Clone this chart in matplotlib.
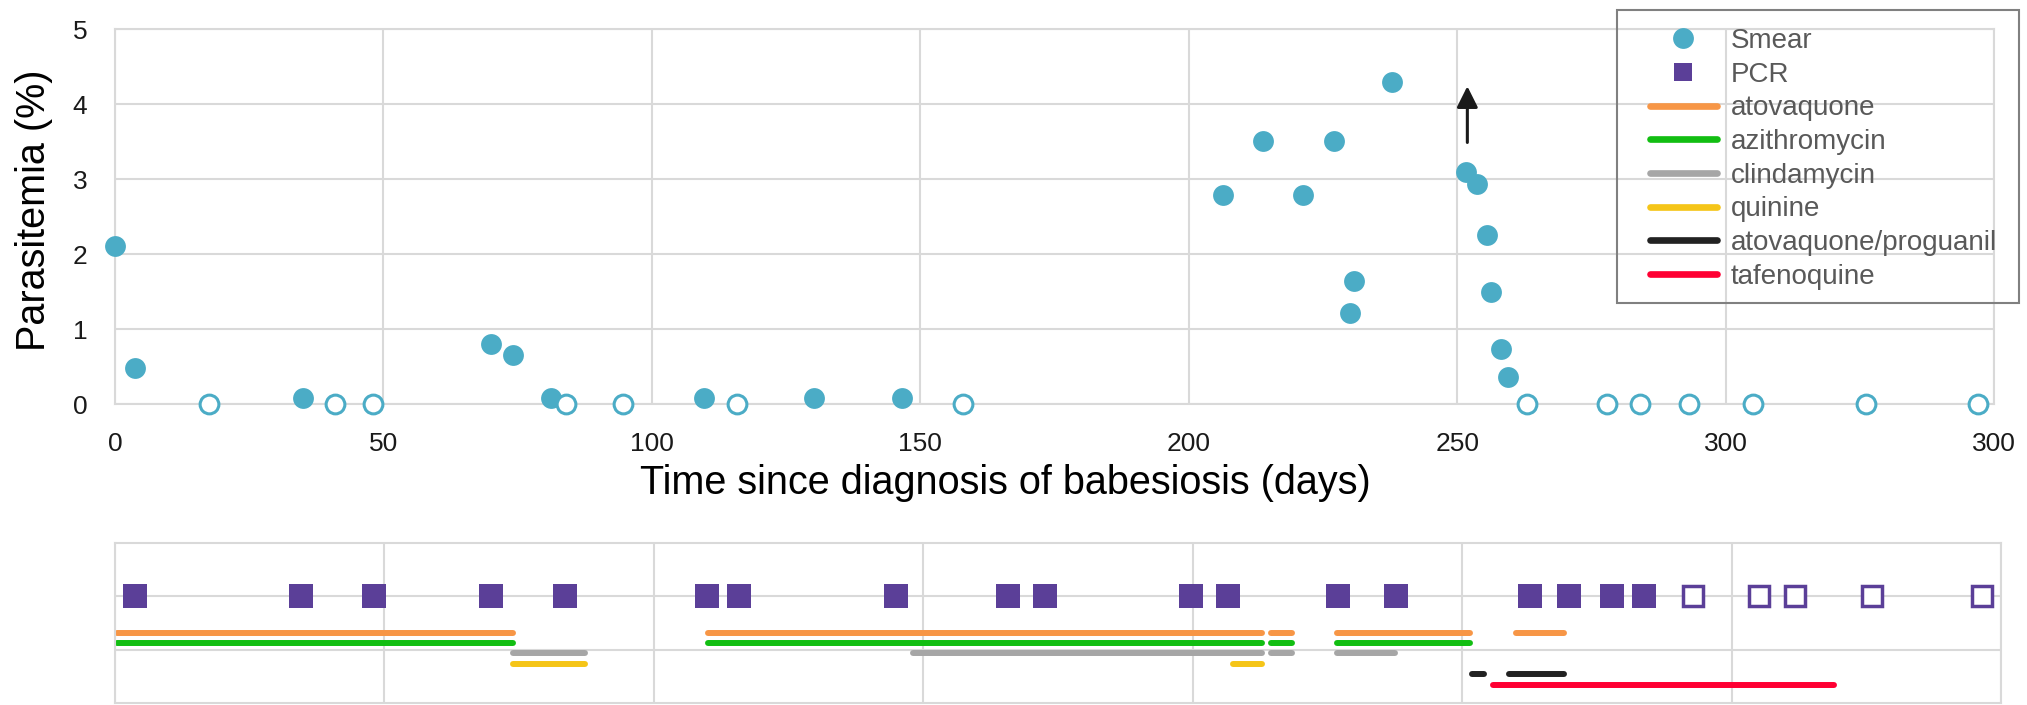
import matplotlib
matplotlib.use('Agg')
import matplotlib.pyplot as plt
from matplotlib.lines import Line2D
from matplotlib.patches import Rectangle

plt.rcParams['font.family'] = ['Liberation Sans', 'DejaVu Sans']

# smear results: positive (filled) and negative (open, plotted at 0)
smear_pos_day = [0, 3.7, 35, 70, 74.1, 81.2, 109.8, 130.2, 146.6, 206.3, 213.8,
                 221.3, 227, 230.1, 230.8, 237.9, 251.7, 253.7, 255.6, 256.3,
                 258.2, 259.5]
smear_pos_val = [2.11, 0.48, 0.08, 0.80, 0.66, 0.08, 0.08, 0.08, 0.08, 2.79, 3.51,
                 2.79, 3.51, 1.22, 1.64, 4.30, 3.10, 2.93, 2.26, 1.50,
                 0.73, 0.36]
smear_neg_day = [17.6, 40.9, 48, 84.1, 94.6, 115.9, 158, 263, 277.9, 284.1,
                 293.2, 305.1, 326.1, 347]

# PCR results
pcr_pos_day = [3.7, 34.5, 48, 69.8, 83.5, 109.8, 115.8, 144.9, 165.7, 172.6,
               199.6, 206.6, 226.9, 237.7, 262.5, 269.8, 277.8, 283.8]
pcr_neg_day = [292.8, 305, 311.8, 326, 346.4]

# treatment periods (start, end) in days
drugs = ['atovaquone', 'azithromycin', 'clindamycin', 'quinine',
         'atovaquone/proguanil', 'tafenoquine']
drug_colors = ['#F79646', '#12BE12', '#A6A6A6', '#F5C518', '#222222', '#FF0033']
drug_rows = [1.32, 1.12, 0.93, 0.74, 0.55, 0.34]
drug_periods = [
    [(0.3, 73.8), (110, 212.8), (214.6, 218.5), (226.8, 251.5), (260, 268.9)],
    [(0.3, 73.8), (110, 212.8), (214.6, 218.5), (226.8, 251.5)],
    [(73.8, 87.2), (148, 212.8), (214.6, 218.5), (226.8, 237.5)],
    [(73.8, 87.2), (207.5, 212.8)],
    [(251.8, 254.1), (258.7, 268.9)],
    [(255.7, 319.1)],
]

x_ticks = [0, 50, 100, 150, 200, 250, 300, 350]
x_tick_labels = ['0', '50', '100', '150', '200', '250', '300', '300']

smear_color = '#4BACC6'
pcr_color = '#5B3F98'
grid_color = '#D9D9D9'

W, H = 2027, 705
fig = plt.figure(figsize=(W / 100, H / 100), dpi=100)

ax = fig.add_axes([115 / W, 1 - 404 / H, (1994 - 115) / W, (404 - 29.3) / H])
ax2 = fig.add_axes([115 / W, 1 - 703 / H, (2001 - 115) / W, (703 - 543) / H])

# --- top panel: parasitemia
ax.plot(smear_pos_day, smear_pos_val, 'o', ms=15, mew=0, color=smear_color,
        clip_on=False, zorder=3)
ax.plot(smear_neg_day, [0] * len(smear_neg_day), 'o', ms=13.5, mew=2.2,
        mfc='white', mec=smear_color, clip_on=False, zorder=3)
ax.annotate('', xy=(251.9, 4.24), xytext=(251.9, 3.49),
            arrowprops=dict(arrowstyle='-|>', lw=2.2, color='#1a1a1a',
                            mutation_scale=32, shrinkA=0, shrinkB=0))

ax.set_xlim(0, 350)
ax.set_ylim(0, 5)
ax.set_xticks(x_ticks)
ax.set_xticklabels(x_tick_labels)
ax.set_yticks(range(6))
ax.tick_params(length=0, labelsize=19, pad=20, colors='#1a1a1a')
ax.grid(True, color=grid_color, lw=1.5)
ax.set_axisbelow(True)
for s in ax.spines.values():
    s.set_color(grid_color)
    s.set_linewidth(1.5)
ax.set_xlabel('Time since diagnosis of babesiosis (days)', fontsize=28.5)
ax.xaxis.set_label_coords(0.474, -0.161)
ax.set_ylabel('Parasitemia (%)', fontsize=28.5)
ax.yaxis.set_label_coords(-0.033, 0.516)

# --- bottom panel: PCR and treatment
ax2.plot(pcr_pos_day, [2] * len(pcr_pos_day), 's', ms=17, mew=0,
         color=pcr_color, clip_on=False, zorder=3)
ax2.plot(pcr_neg_day, [2] * len(pcr_neg_day), 's', ms=14.5, mew=2.5,
         mfc='white', mec=pcr_color, clip_on=False, zorder=3)
for periods, col, row in zip(drug_periods, drug_colors, drug_rows):
    for start, end in periods:
        ax2.plot([start, end], [row, row], color=col, lw=4.3,
                 solid_capstyle='round', clip_on=False, zorder=2)

ax2.set_xlim(0, 350)
ax2.set_ylim(0, 3)
ax2.set_xticks(x_ticks)
ax2.set_yticks([1, 2])
ax2.tick_params(length=0, labelbottom=False, labelleft=False)
ax2.grid(True, color=grid_color, lw=1.5)
ax2.set_axisbelow(True)
for s in ax2.spines.values():
    s.set_color(grid_color)
    s.set_linewidth(1.5)

# --- legend (frame drawn separately)
handles = [
    Line2D([], [], ls='none', marker='o', ms=15, mew=0, color=smear_color),
    Line2D([], [], ls='none', marker='s', ms=13, mew=0, color=pcr_color),
]
for col in drug_colors:
    handles.append(Line2D([], [], color=col, lw=4.8, solid_capstyle='round'))
labels = ['Smear', 'PCR'] + drugs
fig.legend(handles, labels, loc='upper left',
           bbox_to_anchor=(1650 / W, 1 - 28 / H), borderaxespad=0,
           borderpad=0, fontsize=20, frameon=False, handlelength=2.4,
           handletextpad=0.5, labelspacing=0.277, labelcolor='#595959')
fig.patches.append(Rectangle((1617 / W, 1 - 303 / H), (2018.6 - 1617) / W,
                             (303 - 10) / H, transform=fig.transFigure,
                             facecolor='none', edgecolor='#808080', lw=1.5))

fig.savefig('out.png', dpi=100)
